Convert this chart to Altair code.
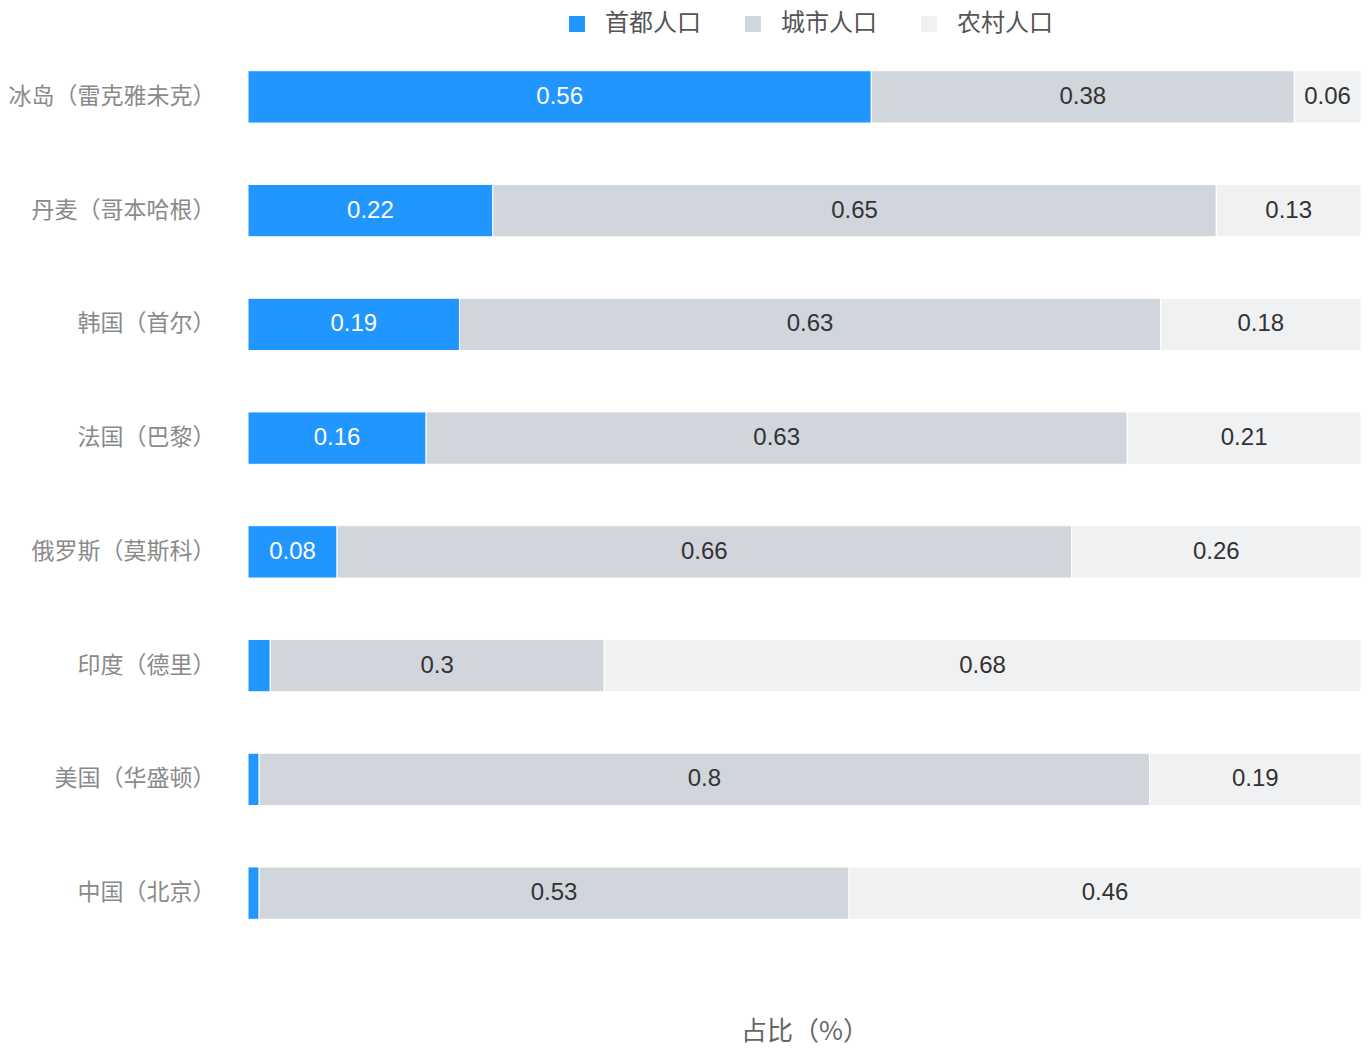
import altair as alt
import pandas as pd

countries = ["冰岛（雷克雅未克）", "丹麦（哥本哈根）", "韩国（首尔）", "法国（巴黎）",
             "俄罗斯（莫斯科）", "印度（德里）", "美国（华盛顿）", "中国（北京）"]
series = ["首都人口", "城市人口", "农村人口"]
capital = [0.56, 0.22, 0.19, 0.16, 0.08, 0.02, 0.01, 0.01]
city = [0.38, 0.65, 0.63, 0.63, 0.66, 0.3, 0.8, 0.53]
rural = [0.06, 0.13, 0.18, 0.21, 0.26, 0.68, 0.19, 0.46]
colors = ["#2196FF", "#D1D5DC", "#F0F1F3"]

rows = []
for vals, s_idx in ((capital, 0), (city, 1), (rural, 2)):
    for c, v in zip(countries, vals):
        rows.append({"country": c, "series": series[s_idx], "ord": s_idx, "value": v})
df = pd.DataFrame(rows)

FONT = "Noto Sans CJK SC"
NUMFONT = "Liberation Sans"

base = alt.Chart(df).transform_stack(
    stack="value", groupby=["country"], as_=["x0", "x1"],
    offset="normalize", sort=[alt.SortField("ord", order="ascending")]
).transform_calculate(mid="(datum.x0 + datum.x1) / 2")

yenc = alt.Y("country:N", sort=countries, title=None,
             scale=alt.Scale(paddingInner=0.54, paddingOuter=0.27),
             axis=alt.Axis(domain=False, ticks=False, labelFontSize=23, labelColor="#8A8A8A",
                           labelFont=FONT, labelPadding=33, labelLimit=400))
xscale = alt.Scale(domain=[0, 1], nice=False, zero=True)

bars = base.mark_bar(stroke="white", strokeWidth=1).encode(
    x=alt.X("x0:Q", scale=xscale, title="占比（%）",
            axis=alt.Axis(labels=False, ticks=False, domain=False, grid=False,
                          titleFontSize=26, titleColor="#666666", titleFont=FONT,
                          titleFontWeight="normal", titlePadding=68)),
    x2="x1:Q",
    y=yenc,
    color=alt.Color("series:N", sort=series,
                    scale=alt.Scale(domain=series, range=colors),
                    legend=alt.Legend(title=None, orient="none", direction="horizontal",
                                      legendX=317, legendY=-28,
                                      symbolType="square", symbolSize=256, symbolStrokeWidth=0,
                                      labelFontSize=24, labelColor="#555555", labelFont=FONT,
                                      columnPadding=40, labelOffset=16)),
)

text = base.transform_filter("datum.value >= 0.05").mark_text(
    fontSize=24, font=NUMFONT, baseline="middle", align="center"
).encode(
    x=alt.X("mid:Q", scale=xscale),
    y=alt.Y("country:N", sort=countries),
    text=alt.Text("value:Q"),
    color=alt.condition("datum.ord == 0", alt.value("white"), alt.value("#333333")),
)

chart = alt.layer(bars, text).properties(
    width=1113, height=910,
    autosize=alt.AutoSizeParams(type="none"),
    padding={"left": 240, "right": 0, "top": 32, "bottom": 95}
).configure_view(stroke=None)

chart.save("out.html", embed_options={"renderer": "svg", "actions": False})
